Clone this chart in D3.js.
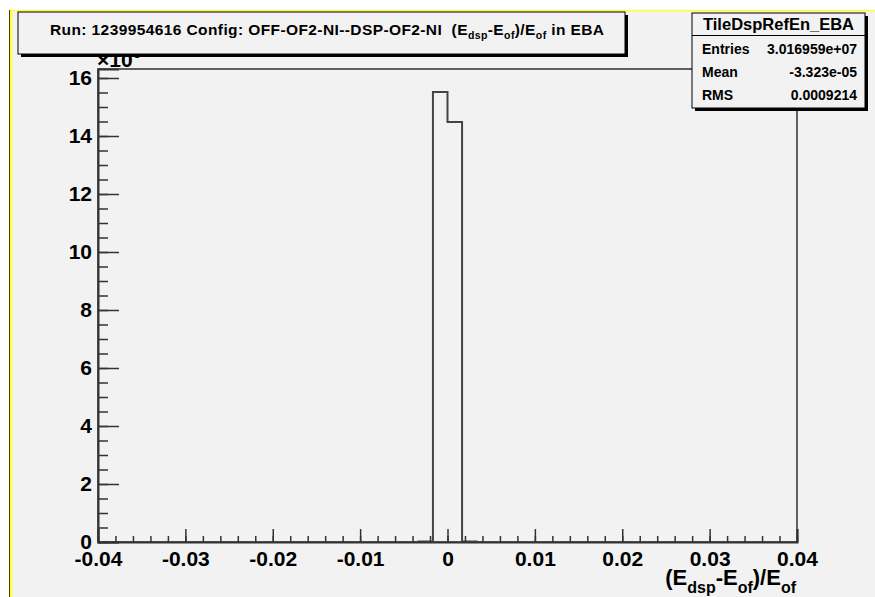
<!DOCTYPE html>
<html><head><meta charset="utf-8">
<script src="https://cdn.jsdelivr.net/npm/d3@7"></script>
<style>
html,body{margin:0;padding:0;background:#fff;}
svg{display:block;font-family:"Liberation Sans",Arial,Helvetica,sans-serif;font-weight:bold;}
</style></head>
<body>
<svg id="c" width="875" height="597"></svg>
<script>
// ---- data ----
const binEdges = [-0.003333, -0.001667, 0, 0.001667, 0.003333];
const binCounts = [0.02, 15.52, 14.48, 0.02]; // x 10^6
const xTicks = [-0.04, -0.03, -0.02, -0.01, 0, 0.01, 0.02, 0.03, 0.04];
const yTicks = [0, 2, 4, 6, 8, 10, 12, 14, 16];
const statLabels = ["Entries", "Mean", "RMS"];
const statValues = ["3.016959e+07", "-3.323e-05", "0.0009214"];
const histName = "TileDspRefEn_EBA";

const svg = d3.select("#c");
const W = 875, H = 597;
const bg = "#f2f2f2";

// canvas background + yellow border
svg.append("rect").attr("x",0).attr("y",0).attr("width",W).attr("height",H).attr("fill","#fff");
svg.append("rect").attr("x",10).attr("y",10).attr("width",W-10).attr("height",H-10).attr("fill",bg);
svg.append("line").attr("x1",9.5).attr("x2",9.5).attr("y1",10).attr("y2",H).attr("stroke","#000").attr("stroke-width",1);
svg.append("line").attr("x1",11).attr("x2",11).attr("y1",10).attr("y2",H).attr("stroke","#ffff33").attr("stroke-width",2.5);
svg.append("line").attr("x1",10).attr("x2",W).attr("y1",10.5).attr("y2",10.5).attr("stroke","#ffff33").attr("stroke-width",1.5);

// scales
const L = 98, R = 797, B = 542, T = 69;
const x = d3.scaleLinear().domain([-0.04, 0.04]).range([L, R]);
const y = d3.scaleLinear().domain([0, (B - T) / 29]).range([B, T]);

// frame
svg.append("rect").attr("x",L).attr("y",T).attr("width",R-L).attr("height",B-T)
  .attr("fill","none").attr("stroke","#111").attr("stroke-width",1.3);

// histogram
const pts = [[x(binEdges[0]), y(0)]];
binCounts.forEach((c,i)=>{
  pts.push([x(binEdges[i]), y(c)]);
  pts.push([x(binEdges[i+1]), y(c)]);
});
pts.push([x(binEdges[binEdges.length-1]), y(0)]);
svg.append("path").attr("d", d3.line()(pts)).attr("fill","none")
  .attr("stroke","#444").attr("stroke-width",2);

const fmt = d => { const v = +(+d).toFixed(2); return v === 0 ? "0" : String(v); };

// x axis minor
const xMinor = d3.range(-0.04, 0.0401, 0.002).map(v=>+v.toFixed(3));
svg.append("g").attr("transform",`translate(0,${B})`)
  .call(d3.axisBottom(x).tickValues(xMinor).tickSize(-6).tickFormat(""))
  .call(g=>g.select(".domain").remove())
  .selectAll("line").attr("stroke","#333").attr("stroke-width",1.5);
// x axis major
const gx = svg.append("g").attr("transform",`translate(0,${B})`)
  .call(d3.axisBottom(x).tickValues(xTicks).tickSize(-13).tickPadding(9).tickFormat(fmt));
gx.select(".domain").attr("stroke","#333").attr("stroke-width",2);
gx.selectAll("line").attr("stroke","#333").attr("stroke-width",1.5);
gx.selectAll("text").attr("font-size",21).attr("fill","#000").attr("font-family","Liberation Sans, Arial, sans-serif").attr("font-weight","bold");

// y axis minor
const yMinor = d3.range(0, 16.01, 0.5);
svg.append("g").attr("transform",`translate(${L},0)`)
  .call(d3.axisLeft(y).tickValues(yMinor).tickSize(-10).tickFormat(""))
  .call(g=>g.select(".domain").remove())
  .selectAll("line").attr("stroke","#333").attr("stroke-width",1.5);
const gy = svg.append("g").attr("transform",`translate(${L},0)`)
  .call(d3.axisLeft(y).tickValues(yTicks).tickSize(-21).tickPadding(6).tickFormat(fmt));
gy.select(".domain").attr("stroke","#333").attr("stroke-width",2);
gy.selectAll("line").attr("stroke","#333").attr("stroke-width",1.5);
gy.selectAll("text").attr("font-size",21).attr("fill","#000").attr("font-family","Liberation Sans, Arial, sans-serif").attr("font-weight","bold");

// exponent label (mostly hidden by title box)
const ex = svg.append("text").attr("x",97).attr("y",67).attr("font-size",21).attr("fill","#000");
ex.append("tspan").text("×10");
ex.append("tspan").attr("dy",-9).attr("font-size",15).text("6");

// x axis title
const xt = svg.append("text").attr("x",796).attr("y",585).attr("text-anchor","end").attr("font-size",22).attr("fill","#000");
xt.append("tspan").text("(E");
xt.append("tspan").attr("dy",8).attr("font-size",16).text("dsp");
xt.append("tspan").attr("dy",-8).text("-E");
xt.append("tspan").attr("dy",8).attr("font-size",16).text("of");
xt.append("tspan").attr("dy",-8).text(")/E");
xt.append("tspan").attr("dy",8).attr("font-size",16).text("of");

// title box
const tb = {x:18, y:12, w:607, h:42};
svg.append("rect").attr("x",tb.x+3).attr("y",tb.y+3).attr("width",tb.w).attr("height",tb.h).attr("fill","#000");
svg.append("rect").attr("x",tb.x).attr("y",tb.y).attr("width",tb.w).attr("height",tb.h).attr("fill",bg).attr("stroke","#000").attr("stroke-width",1);
const tt = svg.append("text").attr("x",50).attr("y",35).attr("font-size",15.5).attr("letter-spacing",0.4).attr("fill","#000");
tt.append("tspan").text("Run: 1239954616 Config: OFF-OF2-NI--DSP-OF2-NI\u00a0 (E");
tt.append("tspan").attr("dy",4).attr("font-size",10.5).text("dsp");
tt.append("tspan").attr("dy",-4).text("-E");
tt.append("tspan").attr("dy",4).attr("font-size",10.5).text("of");
tt.append("tspan").attr("dy",-4).text(")/E");
tt.append("tspan").attr("dy",4).attr("font-size",10.5).text("of");
tt.append("tspan").attr("dy",-4).text(" in EBA");

// stats box
const sb = {x:692, y:13, w:173, h:95};
svg.append("rect").attr("x",sb.x+3).attr("y",sb.y+3).attr("width",sb.w).attr("height",sb.h).attr("fill","#000");
svg.append("rect").attr("x",sb.x).attr("y",sb.y).attr("width",sb.w).attr("height",sb.h).attr("fill",bg).attr("stroke","#000").attr("stroke-width",1);
svg.append("line").attr("x1",sb.x).attr("x2",sb.x+sb.w).attr("y1",35.5).attr("y2",35.5).attr("stroke","#000");
svg.append("text").attr("x",sb.x+sb.w/2).attr("y",30).attr("text-anchor","middle").attr("font-size",16.5).attr("fill","#000").text(histName);
const rowY = [54, 77, 100];
statLabels.forEach((l,i)=>{
  svg.append("text").attr("x",702).attr("y",rowY[i]).attr("font-size",14).attr("fill","#000").text(l);
  svg.append("text").attr("x",857).attr("y",rowY[i]).attr("text-anchor","end").attr("font-size",14).attr("fill","#000").text(statValues[i]);
});
</script>
</body></html>
